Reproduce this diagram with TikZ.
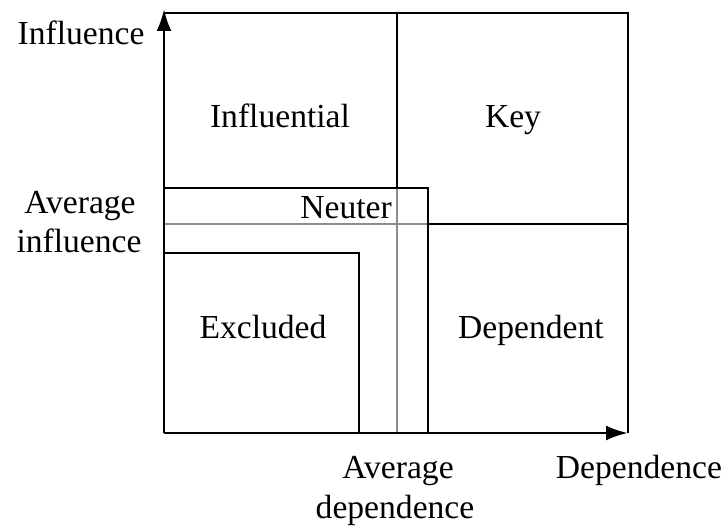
\documentclass[tikz,border=0pt]{standalone}
\usepackage{fontspec}
\setmainfont{Liberation Serif}
\usetikzlibrary{arrows.meta}
\begin{document}
\begin{tikzpicture}[x=1pt,y=-1pt,
  blk/.style={line width=2.8pt, black},
  gry/.style={line width=2.2pt, black!45},
  lbl/.style={font=\fontsize{33.6}{39}\selectfont, inner sep=0pt, anchor=base},
  axisline/.style={blk, -{Latex[length=22pt,width=15pt]}}]
\useasboundingbox (0,0) rectangle (726,527);
% key points
\coordinate (O) at (164,433);
\coordinate (ytip) at (164,9);
\coordinate (xtip) at (628,433);
\coordinate (tl) at (164,13);
\coordinate (tr) at (628,13);
\coordinate (midtop) at (397,13);
\coordinate (midneu) at (397,188);
\coordinate (midbot) at (397,433);
\coordinate (hl) at (164,224);
\coordinate (hneu) at (428,224);
\coordinate (hr) at (628,224);
\coordinate (neutl) at (164,188);
\coordinate (neutr) at (428,188);
\coordinate (neubr) at (428,433);
\coordinate (extl) at (164,253);
\coordinate (extr) at (359,253);
\coordinate (exbr) at (359,433);
% gray average lines inside neuter band
\draw[gry] (midneu) -- (midbot);
\draw[gry] (hl) -- (hneu);
% black lines
\draw[blk] (midtop) -- (midneu);
\draw[blk] (hneu) -- (hr);
\draw[blk] (tl) -- (tr) -- (xtip);
\draw[blk] (neutl) -- (neutr) -- (neubr);
\draw[blk] (extl) -- (extr) -- (exbr);
% axes
\draw[axisline] (O) -- (ytip);
\draw[axisline] (O) -- (xtip);
% labels
\node[lbl] (influence) at (81,45) {Influence};
\node[lbl] (avginfa) at (80,213) {Average};
\node[lbl] (avginfb) at (79,252) {influence};
\node[lbl] (influential) at (280,127) {Influential};
\node[lbl] (key) at (513,127) {Key};
\node[lbl, anchor=base east] (neuter) at (392,218) {Neuter};
\node[lbl] (excluded) at (263,338) {Excluded};
\node[lbl] (dependent) at (531,338) {Dependent};
\node[lbl] (avgdepa) at (398,478) {Average};
\node[lbl] (avgdepb) at (395,518) {dependence};
\node[lbl] (dependence) at (639,478) {Dependence};
\end{tikzpicture}
\end{document}
